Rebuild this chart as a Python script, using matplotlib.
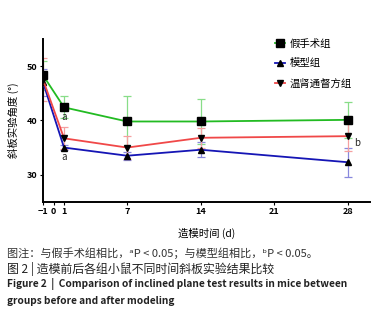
import matplotlib
matplotlib.use('Agg')
import matplotlib.pyplot as plt

plt.rcParams['font.family'] = ['Noto Sans CJK SC', 'DejaVu Sans']

days = [-1, 1, 7, 14, 28]

sham = [48.3, 42.4, 39.8, 39.8, 40.1]
sham_err = [2.7, 2.0, 4.6, 4.1, 3.3]

model = [47.0, 35.0, 33.5, 34.6, 32.3]
model_err = [2.5, 0.5, 0.7, 1.4, 2.7]

treat = [47.5, 36.7, 35.0, 36.8, 37.1]
treat_err = [4.0, 2.0, 2.1, 1.8, 2.8]

names = ['假手术组', '模型组', '温肾通督方组']
colors = ['#22bb22', '#1515b5', '#f04848']
err_colors = ['#88dd88', '#8888dd', '#f5a0a0']
markers = ['s', '^', 'v']

xticks = [-1, 0, 1, 7, 14, 21, 28]

fig = plt.figure(figsize=(3.79, 3.16), dpi=100)
ax = fig.add_axes([0.1135, 0.361, 0.863, 0.516])

series = [sham, model, treat]
errs = [sham_err, model_err, treat_err]
for vals, err, name, c, ec, m in zip(series, errs, names, colors, err_colors, markers):
    ax.errorbar(days, vals, yerr=err, fmt='none', ecolor=ec, elinewidth=0.9,
                capsize=3, capthick=0.9, zorder=2)
    ax.plot(days, vals, color=c, lw=1.3, marker=m, markersize=6 if m == 's' else 5,
            markerfacecolor='black', markeredgecolor='black', label=name, zorder=3)

ax.text(1, 40.6, 'a', fontsize=7, ha='center', va='center', color='#222222')
ax.text(1, 33.2, 'a', fontsize=7, ha='center', va='center', color='#222222')
ax.text(28.6, 35.9, 'b', fontsize=7, ha='left', va='center', color='#222222')

ax.set_xlim(-1, 30.1)
ax.set_ylim(25, 55)
ax.set_xticks(xticks)
ax.set_yticks([30, 40, 50])
ax.tick_params(axis='both', labelsize=6.5, length=2.5, width=0.8, pad=1.5)
for lab in ax.get_xticklabels() + ax.get_yticklabels():
    lab.set_fontweight('bold')
ax.spines['top'].set_visible(False)
ax.spines['right'].set_visible(False)
ax.spines['left'].set_linewidth(1.4)
ax.spines['bottom'].set_linewidth(1.4)

ax.set_xlabel('造模时间 (d)', fontsize=7.5, labelpad=8)
ax.set_ylabel('斜板实验角度 (°)', fontsize=7.5, labelpad=6)

ax.legend(loc='upper left', bbox_to_anchor=(0.68, 1.06), frameon=False, fontsize=7.5,
          handlelength=1.0, handletextpad=0.4, labelspacing=0.95, markerscale=0.9)

fig.text(0.018, 0.200, '图注：与假手术组相比，ᵃP < 0.05；与模型组相比，ᵇP < 0.05。',
         fontsize=8, color='#333333', va='center')
fig.text(0.018, 0.148, '图 2 | 造模前后各组小鼠不同时间斜板实验结果比较',
         fontsize=8.6, color='#222222', va='center')
fig.text(0.018, 0.100, 'Figure 2  |  Comparison of inclined plane test results in mice between',
         fontsize=7.3, fontweight='bold', color='#222222', va='center')
fig.text(0.018, 0.048, 'groups before and after modeling',
         fontsize=7.3, fontweight='bold', color='#222222', va='center')

fig.savefig('out.png', dpi=100)
